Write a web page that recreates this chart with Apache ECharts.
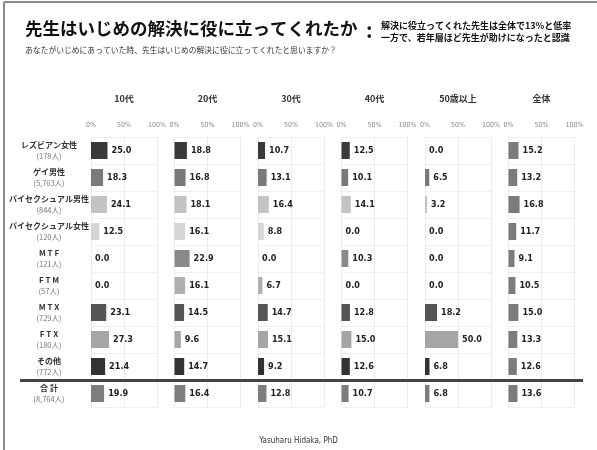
<!DOCTYPE html>
<html>
<head>
<meta charset="utf-8">
<script src="https://cdn.jsdelivr.net/npm/echarts@6/dist/echarts.min.js"></script>
<style>
  html, body { margin: 0; padding: 0; background: #fff; }
  #chart { width: 597px; height: 450px; }
</style>
</head>
<body>
<div id="chart"></div>
<script>
// Row groups (name + respondent count)
const groups = ['レズビアン女性', 'ゲイ男性', 'バイセクシュアル男性', 'バイセクシュアル女性', 'M T F', 'F T M', 'M T X', 'F T X', 'その他', '合 計'];
const counts = ['(178人)', '(5,763人)', '(844人)', '(120人)', '(121人)', '(57人)', '(729人)', '(180人)', '(772人)', '(8,764人)'];

// Age-band columns
const ageBands = ['10代', '20代', '30代', '40代', '50歳以上', '全体'];

// Share (%) who said teachers helped resolve the bullying
const teens     = [25.0, 18.3, 24.1, 12.5, 0.0, 0.0, 23.1, 27.3, 21.4, 19.9];
const twenties  = [18.8, 16.8, 18.1, 16.1, 22.9, 16.1, 14.5, 9.6, 14.7, 16.4];
const thirties  = [10.7, 13.1, 16.4, 8.8, 0.0, 6.7, 14.7, 15.1, 9.2, 12.8];
const forties   = [12.5, 10.1, 14.1, 0.0, 10.3, 0.0, 12.8, 15.0, 12.6, 10.7];
const fiftyPlus = [0.0, 6.5, 3.2, 0.0, 0.0, 0.0, 18.2, 50.0, 6.8, 6.8];
const overall   = [15.2, 13.2, 16.8, 11.7, 9.1, 10.5, 15.0, 13.3, 12.6, 13.6];

// Axis tick labels
const tickValues = [0, 50, 100];

const columns = [teens, twenties, thirties, forties, fiftyPlus, overall];

// Gray shade per row group; the overall column uses one tone
const rowShades = ['#3a3a3a', '#7a7a7a', '#c3c3c3', '#d5d5d5', '#8a8a8a', '#b0b0b0', '#555555', '#a5a5a5', '#333333', '#7d7d7d'];
const overallShade = '#7b7b7b';

const CJK = '"Noto Sans CJK JP", "Noto Sans", sans-serif';
const NUM = '"Liberation Sans Narrow", "DejaVu Sans Condensed", "Roboto", sans-serif';

const panelLeft0 = 91, panelStep = 83.5, panelWidth = 66;
const gridTop = 137, gridHeight = 270;

const grids = [], xAxes = [], yAxes = [], series = [];
columns.forEach((vals, i) => {
  grids.push({ left: panelLeft0 + i * panelStep, top: gridTop, width: panelWidth, height: gridHeight });
  xAxes.push({
    gridIndex: i, type: 'value', min: 0, max: 100, interval: 50, position: 'top',
    name: ageBands[i], nameLocation: 'middle', nameGap: 34,
    nameTextStyle: { fontFamily: CJK, fontWeight: 'bold', fontSize: 9, color: '#333' },
    axisLine: { show: false }, axisTick: { show: false },
    axisLabel: {
      fontFamily: NUM, fontSize: 7, color: '#888', margin: 8,
      customValues: tickValues,
      formatter: v => v + '%'
    },
    splitLine: { show: true, lineStyle: { color: '#ececec', width: 1 } }
  });
  yAxes.push({
    gridIndex: i, type: 'category', data: groups, inverse: true,
    axisLine: { show: false }, axisTick: { show: false },
    splitLine: { show: true, lineStyle: { color: '#efefef' } },
    axisLabel: i === 0 ? {
      show: true, align: 'center', margin: 42,
      formatter: (v, idx) => '{n|' + v + '}\n{c|' + counts[idx] + '}',
      rich: {
        n: { fontFamily: CJK, fontWeight: 'bold', fontSize: 8, color: '#333', lineHeight: 12, align: 'center' },
        c: { fontFamily: CJK, fontSize: 7.5, color: '#777', lineHeight: 11, align: 'center' }
      }
    } : { show: false }
  });
  series.push({
    type: 'bar', xAxisIndex: i, yAxisIndex: i, barWidth: 17,
    data: vals.map((v, r) => ({ value: v, itemStyle: { color: i === 5 ? overallShade : rowShades[r] } })),
    label: {
      show: true, position: 'right', distance: 4,
      formatter: p => p.value.toFixed(1),
      fontFamily: NUM, fontWeight: 'bold', fontSize: 9, color: '#222'
    },
    silent: true
  });
});

const chart = echarts.init(document.getElementById('chart'), null, { renderer: 'canvas' });
chart.setOption({
  backgroundColor: '#fff',
  animation: false,
  grid: grids, xAxis: xAxes, yAxis: yAxes, series: series,
  graphic: [
    // frame edges
    { type: 'line', shape: { x1: 4, y1: 2, x2: 597, y2: 2 }, style: { stroke: '#8a8a8a', lineWidth: 2 } },
    { type: 'line', shape: { x1: 4, y1: 2, x2: 4, y2: 450 }, style: { stroke: '#8a8a8a', lineWidth: 2 } },
    // heading
    { type: 'text', left: 25, top: 20, style: { text: '先生はいじめの解決に役に立ってくれたか', font: 'bold 17.5px ' + CJK, fill: '#111' } },
    { type: 'text', left: 366, top: 20, style: { text: ':', font: 'bold 20px ' + CJK, fill: '#111' } },
    { type: 'text', left: 381, top: 19, style: { text: '解決に役立ってくれた先生は全体で13%と低率\n一方で、若年層ほど先生が助けになったと認識', font: 'bold 9px ' + CJK, fill: '#111', lineHeight: 12.5 } },
    { type: 'text', left: 25, top: 46, style: { text: 'あなたがいじめにあっていた時、先生はいじめの解決に役に立ってくれたと思いますか？', font: '7.8px ' + CJK, fill: '#333' } },
    // separator before the total row
    { type: 'line', shape: { x1: 20, y1: 380.5, x2: 583, y2: 380.5 }, style: { stroke: '#444', lineWidth: 3 }, z: 100 },
    // credit
    { type: 'text', left: 'center', top: 437, style: { text: 'Yasuharu Hidaka, PhD', font: '8px ' + NUM, fill: '#333' } }
  ]
});
</script>
</body>
</html>
